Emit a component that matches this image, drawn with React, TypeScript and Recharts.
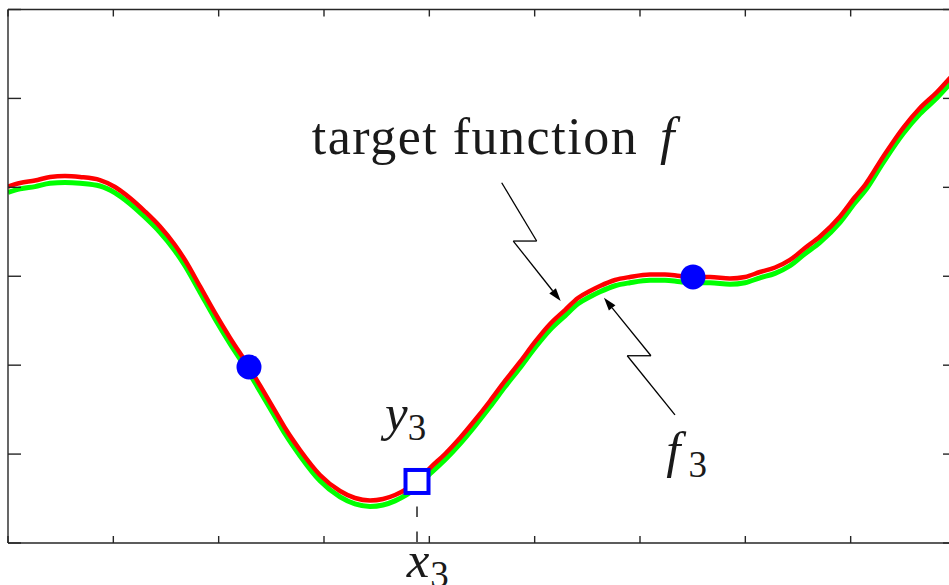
import { ComposedChart, Line, ReferenceDot, ReferenceLine, Scatter, XAxis, YAxis } from 'recharts';

// sample positions along x and the two curves through them
const xGrid = [
  0, 0.114, 0.256, 0.399, 0.541, 0.684, 0.873, 1.016, 1.158, 1.301, 1.443, 1.585, 1.68, 1.823, 1.965, 2.108,
  2.288, 2.44, 2.535, 2.63, 2.772, 2.962, 3.152, 3.294, 3.437, 3.56, 3.674, 3.883, 4.006, 4.149, 4.291, 4.434,
  4.576, 4.718, 4.861, 5.003, 5.146, 5.288, 5.411, 5.525, 5.62, 5.763, 5.905, 6.095, 6.237, 6.38, 6.503, 6.665,
  6.854, 6.997, 7.139, 7.282, 7.424, 7.566, 7.709, 7.899, 8.041, 8.136, 8.307, 8.497, 8.658, 8.82, 8.934, 9,
];

const targetF = [
  4.009, 4.049, 4.077, 4.116, 4.127, 4.116, 4.082, 4.004, 3.88, 3.728, 3.559, 3.351, 3.183, 2.885, 2.587, 2.306,
  1.979, 1.676, 1.485, 1.293, 1.046, 0.765, 0.585, 0.506, 0.478, 0.495, 0.54, 0.692, 0.843, 1.001, 1.181, 1.383,
  1.597, 1.822, 2.036, 2.261, 2.463, 2.62, 2.755, 2.834, 2.89, 2.958, 2.992, 3.02, 3.02, 3.003, 2.992, 2.992,
  2.975, 2.992, 3.048, 3.098, 3.183, 3.318, 3.447, 3.672, 3.891, 4.026, 4.341, 4.667, 4.892, 5.072, 5.218, 5.308,
];

const approxF3 = [
  3.942, 3.982, 4.008, 4.045, 4.054, 4.046, 4.015, 3.938, 3.815, 3.663, 3.494, 3.287, 3.119, 2.821, 2.523, 2.242,
  1.915, 1.612, 1.421, 1.229, 0.982, 0.7, 0.519, 0.44, 0.411, 0.428, 0.474, 0.627, 0.778, 0.936, 1.116, 1.318,
  1.532, 1.757, 1.971, 2.196, 2.398, 2.555, 2.69, 2.769, 2.825, 2.893, 2.927, 2.955, 2.955, 2.938, 2.927, 2.927,
  2.91, 2.927, 2.983, 3.033, 3.118, 3.253, 3.382, 3.607, 3.826, 3.961, 4.276, 4.602, 4.827, 5.007, 5.153, 5.243,
];

// observed samples (filled dots) and the newest sample (x3, y3)
const sampleX = [2.288, 6.503];
const sampleY = [1.979, 2.992];
const newestX = 3.883;
const newestY = 0.692;

const xTicks = [0, 1, 2, 3, 4, 5, 6, 7, 8, 9];
const yTicks = [0, 1, 2, 3, 4, 5, 6];

// zig-zag pointers, tail first, tip last
const targetArrow = [
  [4.687, 4.052],
  [5.019, 3.396],
  [4.797, 3.396],
  [5.247, 2.722],
];
const approxArrow = [
  [6.332, 1.44],
  [5.879, 2.106],
  [6.104, 2.106],
  [5.658, 2.759],
];

const rows = xGrid.map((x, i) => ({ x, f: targetF[i], f3: approxF3[i] }));
const samples = sampleX.map((x, i) => ({ x, y: sampleY[i] }));
const newest = [{ x: newestX, y: newestY }];

const AXIS = '#262626';
const SERIF = '"Liberation Serif", "Times New Roman", serif';

// ticks are marks only, no labels
const noLabel = () => <g />;

const dot = (p: any) => <circle cx={p.cx} cy={p.cy} r={12.5} fill="#0000ff" />;
const square = (p: any) => (
  <rect x={p.cx - 11.5} y={p.cy - 11.5} width={23} height={23} fill="#fff" stroke="#0000ff" strokeWidth={4} />
);

const plainSegment = (p: any) => <line x1={p.x1} y1={p.y1} x2={p.x2} y2={p.y2} stroke="#000" strokeWidth={1.3} />;

const headSegment = (p: any) => {
  const a = Math.atan2(p.y2 - p.y1, p.x2 - p.x1);
  const len = 13;
  const half = 4.2;
  const bx = p.x2 - len * Math.cos(a);
  const by = p.y2 - len * Math.sin(a);
  const pts = [
    [p.x2, p.y2],
    [bx + half * Math.sin(a), by - half * Math.cos(a)],
    [bx - half * Math.sin(a), by + half * Math.cos(a)],
  ];
  return (
    <g>
      <line x1={p.x1} y1={p.y1} x2={bx} y2={by} stroke="#000" strokeWidth={1.3} />
      <polygon points={pts.map((q) => q.join(',')).join(' ')} fill="#000" />
    </g>
  );
};

function arrowSegments(path: number[][], key: string) {
  return path.slice(1).map((pt, i) => (
    <ReferenceLine
      key={`${key}-${i}`}
      segment={[
        { x: path[i][0], y: path[i][1] },
        { x: pt[0], y: pt[1] },
      ]}
      ifOverflow="visible"
      shape={i === path.length - 2 ? headSegment : plainSegment}
    />
  ));
}

const mathLabel = (main: string, sub: string, subDx: number) => (p: any) => (
  <text x={p.cx} y={p.cy} fontFamily={SERIF} fill="#1a1a1a">
    <tspan fontSize={51} fontStyle="italic">
      {main}
    </tspan>
    <tspan fontSize={37} dx={subDx} dy={10}>
      {sub}
    </tspan>
  </text>
);

const titleLabel = (p: any) => (
  <text x={p.cx} y={p.cy} fontFamily={SERIF} fill="#1a1a1a" fontSize={52}>
    <tspan textLength={325} lengthAdjust="spacing">
      target function
    </tspan>
  </text>
);

const titleSymbol = (p: any) => (
  <text x={p.cx} y={p.cy} fontFamily={SERIF} fill="#1a1a1a" fontSize={52} fontStyle="italic">
    f
  </text>
);

const axisStyle = { stroke: AXIS, strokeWidth: 1.4 };

export default function App() {
  return (
    <div style={{ position: 'absolute', left: 0, top: 0, width: 949, height: 585, overflow: 'hidden', background: '#fff' }}>
      <ComposedChart width={970} height={585} data={rows} margin={{ top: 9.5, right: 14, bottom: 42, left: 8 }}>
        <XAxis
          type="number"
          dataKey="x"
          domain={[0, 9]}
          ticks={xTicks}
          tick={noLabel}
          tickSize={7}
          mirror
          allowDataOverflow
          axisLine={axisStyle}
          tickLine={axisStyle}
        />
        <XAxis
          xAxisId="top"
          orientation="top"
          type="number"
          dataKey="x"
          domain={[0, 9]}
          ticks={xTicks}
          tick={noLabel}
          tickSize={7}
          mirror
          allowDataOverflow
          axisLine={axisStyle}
          tickLine={axisStyle}
        />
        <YAxis
          type="number"
          domain={[0, 6]}
          ticks={yTicks}
          tick={noLabel}
          tickSize={13}
          mirror
          allowDataOverflow
          axisLine={axisStyle}
          tickLine={axisStyle}
        />
        <YAxis
          yAxisId="right"
          orientation="right"
          type="number"
          domain={[0, 6]}
          ticks={yTicks}
          tick={noLabel}
          tickSize={13}
          mirror
          allowDataOverflow
          axisLine={axisStyle}
          tickLine={axisStyle}
        />

        <ReferenceLine
          segment={[
            { x: newestX, y: 0.551 },
            { x: newestX, y: 0 },
          ]}
          stroke="#000"
          strokeWidth={1.3}
          strokeDasharray="10.5 14.5"
          strokeDashoffset={12.5}
          ifOverflow="visible"
        />

        <Line type="monotone" dataKey="f3" stroke="#00ff00" strokeWidth={5} dot={false} isAnimationActive={false} />
        <Line type="monotone" dataKey="f" stroke="#ff0000" strokeWidth={4.5} dot={false} isAnimationActive={false} />
        <Scatter data={samples} dataKey="y" shape={dot} isAnimationActive={false} />
        <Scatter data={newest} dataKey="y" shape={square} isAnimationActive={false} />

        {arrowSegments(targetArrow, 'target')}
        {arrowSegments(approxArrow, 'approx')}

        <ReferenceDot x={2.883} y={4.375} r={0} ifOverflow="visible" shape={titleLabel} />
        <ReferenceDot x={6.19} y={4.375} r={0} ifOverflow="visible" shape={titleSymbol} />
        <ReferenceDot x={3.579} y={1.271} r={0} ifOverflow="visible" shape={mathLabel('y', '3', 0)} />
        <ReferenceDot x={3.785} y={-0.382} r={0} ifOverflow="visible" shape={mathLabel('x', '3', 1)} />
        <ReferenceDot x={6.25} y={0.855} r={0} ifOverflow="visible" shape={mathLabel('f', '3', 8)} />
      </ComposedChart>
    </div>
  );
}
